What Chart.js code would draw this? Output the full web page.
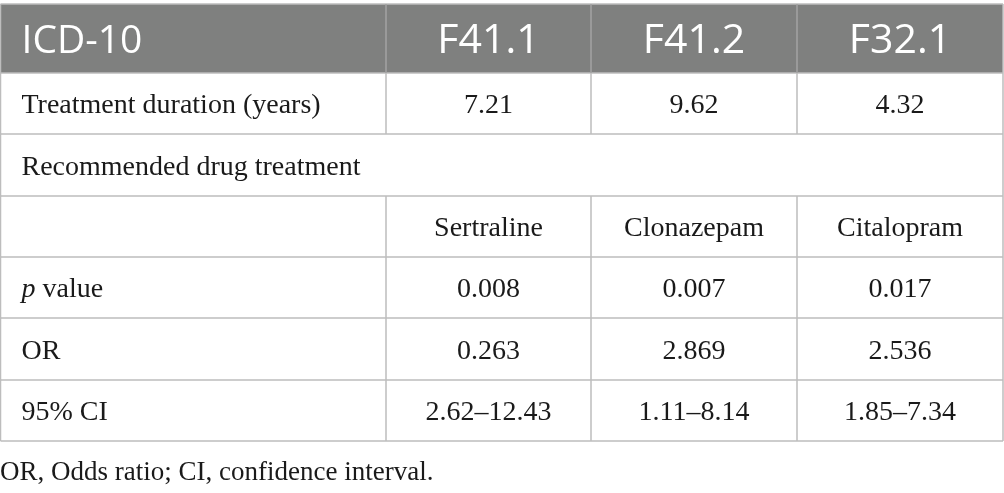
<!DOCTYPE html>
<html>
<head>
<meta charset="utf-8">
<script src="https://cdn.jsdelivr.net/npm/chart.js@4"></script>
<style>
  html, body { margin: 0; padding: 0; background: #fff; }
  #wrap { width: 1004px; height: 493px; }
</style>
</head>
<body>
<div id="wrap"><canvas id="tableChart" width="1004" height="493"></canvas></div>
<script>
// Table contents
const codes = ['F41.1', 'F41.2', 'F32.1'];
const duration = ['7.21', '9.62', '4.32'];
const drugs = ['Sertraline', 'Clonazepam', 'Citalopram'];
const pValues = ['0.008', '0.007', '0.017'];
const oddsRatios = ['0.263', '2.869', '2.536'];
const confInts = ['2.62–12.43', '1.11–8.14', '1.85–7.34'];
const rowLabels = ['Treatment duration (years)', 'Recommended drug treatment', '', 'p value', 'OR', '95% CI'];
const footnote = 'OR, Odds ratio; CI, confidence interval.';

// Layout (scale units = px)
const colEdges = [0.5, 386, 591, 797, 1003];
const rowEdges = [4, 73, 134, 196, 257, 318, 380, 441];

const bodyRows = [duration, null, drugs, pValues, oddsRatios, confInts];

const serif = '"Liberation Serif", "Times New Roman", serif';
const sans = '"Open Sans", "Noto Sans", sans-serif';

const tablePlugin = {
    id: 'tablePlugin',
    afterDraw(chart) {
        const ctx = chart.ctx;
        const x = chart.scales.x, y = chart.scales.y;
        const px = v => x.getPixelForValue(v);
        const py = v => y.getPixelForValue(v);
        ctx.save();

        // header background
        ctx.fillStyle = '#7f807f';
        ctx.fillRect(px(colEdges[0]), py(rowEdges[0]), px(colEdges[4]) - px(colEdges[0]), py(rowEdges[1]) - py(rowEdges[0]));

        // grid lines
        ctx.lineWidth = 1.5;
        ctx.strokeStyle = '#bdbdbd';
        rowEdges.forEach(r => {
            ctx.beginPath();
            ctx.moveTo(px(colEdges[0]), py(r));
            ctx.lineTo(px(colEdges[4]), py(r));
            ctx.stroke();
        });
        [0, 4].forEach(i => {
            ctx.beginPath();
            ctx.moveTo(px(colEdges[i]), py(rowEdges[0]));
            ctx.lineTo(px(colEdges[i]), py(rowEdges[7]));
            ctx.stroke();
        });
        [1, 2, 3].forEach(i => {
            // vertical lines skip the spanning row
            ctx.strokeStyle = '#a3a3a3';
            ctx.beginPath();
            ctx.moveTo(px(colEdges[i]), py(rowEdges[0]));
            ctx.lineTo(px(colEdges[i]), py(rowEdges[1]));
            ctx.stroke();
            ctx.strokeStyle = '#bdbdbd';
            ctx.beginPath();
            ctx.moveTo(px(colEdges[i]), py(rowEdges[1]));
            ctx.lineTo(px(colEdges[i]), py(rowEdges[2]));
            ctx.moveTo(px(colEdges[i]), py(rowEdges[3]));
            ctx.lineTo(px(colEdges[i]), py(rowEdges[7]));
            ctx.stroke();
        });

        // header text
        const hMid = (py(rowEdges[0]) + py(rowEdges[1])) / 2;
        ctx.fillStyle = '#ffffff';
        ctx.font = '39px ' + sans;
        ctx.textBaseline = 'alphabetic';
        ctx.textAlign = 'left';
        ctx.fillText('ICD-10', px(colEdges[0]) + 21, hMid + 14.5);
        ctx.textAlign = 'center';
        ctx.font = '41px ' + sans;
        codes.forEach((c, i) => {
            ctx.fillText(c, (px(colEdges[i + 1]) + px(colEdges[i + 2])) / 2, hMid + 14.5);
        });

        // body rows
        ctx.fillStyle = '#1a1a1a';
        rowLabels.forEach((label, r) => {
            const mid = (py(rowEdges[r + 1]) + py(rowEdges[r + 2])) / 2;
            const base = mid + 9.5;
            ctx.textAlign = 'left';
            const lx = px(colEdges[0]) + 21;
            if (label === 'p value') {
                ctx.font = 'italic 28px ' + serif;
                ctx.fillText('p', lx, base);
                const w = ctx.measureText('p').width;
                ctx.font = '28px ' + serif;
                ctx.fillText(' value', lx + w, base);
            } else {
                ctx.font = '28px ' + serif;
                ctx.fillText(label, lx, base);
            }
            const vals = bodyRows[r];
            if (vals) {
                ctx.textAlign = 'center';
                ctx.font = '28px ' + serif;
                vals.forEach((v, i) => {
                    ctx.fillText(v, (px(colEdges[i + 1]) + px(colEdges[i + 2])) / 2, base);
                });
            }
        });

        // footnote
        ctx.textAlign = 'left';
        ctx.font = '27px ' + serif;
        ctx.fillText(footnote, px(0), py(480));
        ctx.restore();
    }
};

const tableChart = new Chart(document.getElementById('tableChart'), {
    type: 'scatter',
    data: { datasets: [{ data: [] }] },
    options: {
        responsive: false,
        animation: false,
        devicePixelRatio: 1,
        layout: { padding: 0 },
        plugins: { legend: { display: false }, tooltip: { enabled: false } },
        scales: {
            x: { type: 'linear', min: 0, max: 1004, display: false },
            y: { type: 'linear', min: 0, max: 493, reverse: true, display: false }
        }
    },
    plugins: [tablePlugin]
});
</script>
</body>
</html>
